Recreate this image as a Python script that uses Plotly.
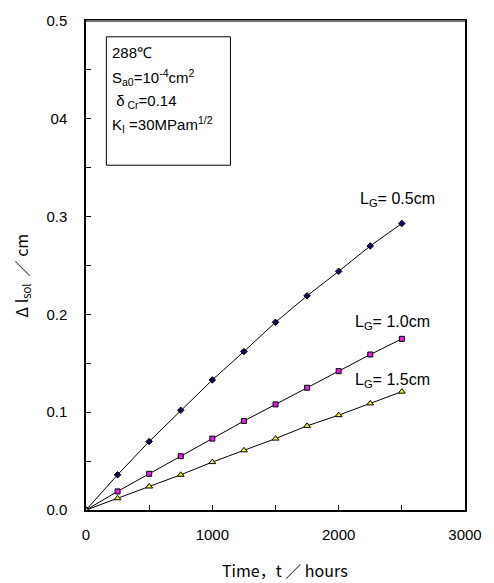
import plotly.graph_objects as go

# Elapsed time (hours) and crack growth for three gauge lengths
time_h = [0, 250, 500, 750, 1000, 1250, 1500, 1750, 2000, 2250, 2500]
dl_05 = [0.0, 0.036, 0.070, 0.102, 0.133, 0.162, 0.192, 0.219, 0.244, 0.270, 0.293]
dl_10 = [0.0, 0.019, 0.037, 0.055, 0.073, 0.091, 0.108, 0.125, 0.142, 0.159, 0.175]
dl_15 = [0.0, 0.012, 0.024, 0.036, 0.049, 0.061, 0.073, 0.086, 0.097, 0.109, 0.121]

x_ticks = [0, 1000, 2000, 3000]
x_tick_text = ["0", "1000", "2000", "3000"]
y_ticks = [0.0, 0.1, 0.2, 0.3, 0.4, 0.5]
y_tick_text = ["0.0", "0.1", "0.2", "0.3", "04", "0.5"]

# Condition lines shown in the boxed note
note_lines = [
    "288℃",
    "S<sub>a0</sub>=10<sup>-4</sup>cm<sup>2</sup>",
    " δ<sub> Cr</sub>=0.14",
    "K<sub>I</sub> =30MPam<sup>1/2</sup>",
]
note_y = [47, 72, 96, 120]  # pixel rows of the note lines

FONT = "Liberation Sans, Arial, sans-serif"
JFONT = "Noto Sans CJK JP, sans-serif"

L, R, T, B = 86, 17, 15, 73
W, H = 494, 583
PH = H - T - B
PW = W - L - R


def py(pix):
    """Pixel row -> paper y."""
    return (H - B - pix) / PH


def px(pix):
    """Pixel column -> paper x."""
    return (pix - L) / PW


fig = go.Figure()

series = [
    (dl_05, "diamond", "#0a0a5a", 5),
    (dl_10, "square", "#e020e0", 5),
    (dl_15, "triangle-up", "#f0f020", 6),
]
for ys, sym, col, sz in series:
    fig.add_trace(go.Scatter(
        x=time_h, y=ys, mode="lines+markers",
        line=dict(color="black", width=1),
        marker=dict(symbol=sym, size=sz, color=col,
                    line=dict(color="black", width=1)),
        showlegend=False,
    ))

fig.update_xaxes(
    range=[0, 3000], tickvals=x_ticks, ticktext=x_tick_text,
    ticks="inside", ticklen=5, tickcolor="black",
    minor=dict(dtick=500, tick0=0, ticks="inside", ticklen=5, tickcolor="black"),
    showline=True, linecolor="black", linewidth=1.5, mirror=True,
    showgrid=False, zeroline=False, ticklabelstandoff=10,
    tickfont=dict(family=FONT, size=15, color="black"),
)
fig.update_yaxes(
    range=[0, 0.5], tickvals=y_ticks, ticktext=y_tick_text,
    ticks="inside", ticklen=5, tickcolor="black",
    minor=dict(dtick=0.05, tick0=0, ticks="inside", ticklen=5, tickcolor="black"),
    showline=True, linecolor="black", linewidth=1.5, mirror=True,
    showgrid=False, zeroline=False, ticklabelstandoff=14,
    tickfont=dict(family=FONT, size=15, color="black"),
)

annotations = [
    dict(x=0.524, y=py(571), xref="paper", yref="paper", showarrow=False,
         text="Time，t ／ hours", font=dict(family=JFONT, size=16, color="black"),
         xanchor="center", yanchor="middle"),
    dict(x=-0.17, y=py(273), xref="paper", yref="paper", showarrow=False,
         text="Δ l<sub>sol</sub>  ／ cm", textangle=-90,
         font=dict(family=JFONT, size=16, color="black"),
         xanchor="center", yanchor="middle"),
    dict(x=2463, y=0.318, showarrow=False, text="L<sub>G</sub>= 0.5cm",
         font=dict(family=FONT, size=16, color="black"), xanchor="center", yanchor="middle"),
    dict(x=2429, y=0.192, showarrow=False, text="L<sub>G</sub>= 1.0cm",
         font=dict(family=FONT, size=16, color="black"), xanchor="center", yanchor="middle"),
    dict(x=2429, y=0.132, showarrow=False, text="L<sub>G</sub>= 1.5cm",
         font=dict(family=FONT, size=16, color="black"), xanchor="center", yanchor="middle"),
]
for txt, yp in zip(note_lines, note_y):
    annotations.append(dict(
        x=px(111), y=py(yp), xref="paper", yref="paper",
        showarrow=False, text=txt, xanchor="left", yanchor="middle",
        font=dict(family=FONT, size=15, color="black")))

# Boxed note frame
fig.add_shape(type="rect", xref="paper", yref="paper",
              x0=px(107), x1=px(235), y0=py(161), y1=py(31),
              line=dict(color="black", width=1), fillcolor="rgba(0,0,0,0)")
# Grey top edge of the plotting frame
fig.add_shape(type="line", xref="paper", yref="paper",
              x0=0, x1=1, y0=1, y1=1,
              line=dict(color="#707070", width=2))

fig.update_layout(
    width=W, height=H,
    margin=dict(l=L, r=R, t=T, b=B),
    paper_bgcolor="white", plot_bgcolor="white",
    annotations=annotations,
)

fig.write_html("out.html")
